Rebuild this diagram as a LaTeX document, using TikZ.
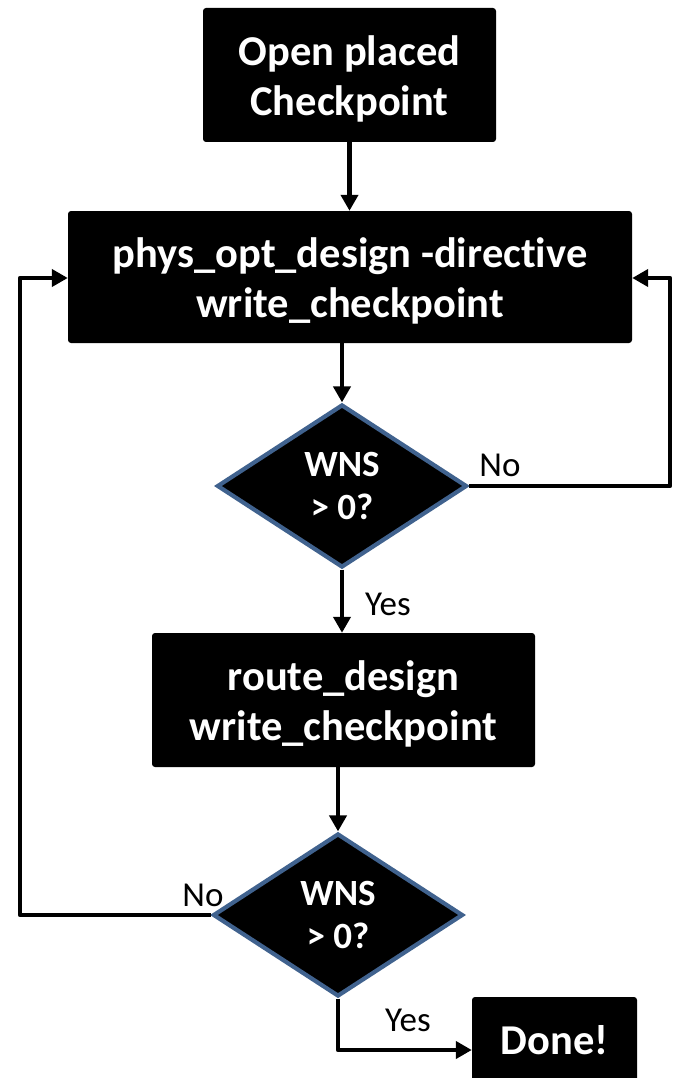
\documentclass[tikz,border=0pt]{standalone}
\usepackage{fontspec}
\setmainfont{Carlito}[Ligatures=NoCommon]
\usetikzlibrary{shapes.geometric,arrows.meta}
\definecolor{decborder}{RGB}{64,98,142}
\tikzset{
  stepbox/.style={rectangle, fill=black, rounded corners=3pt, inner sep=0pt},
  steptext/.style={text=white, font=\fontsize{42.5}{50}\selectfont\bfseries,
    align=center, inner sep=0pt, yshift=-4pt},
  decision/.style={diamond, fill=black, draw=decborder, line width=4.2pt,
    text=white, font=\fontsize{37}{43}\selectfont\bfseries, align=center,
    inner sep=0pt, minimum width=250pt, minimum height=163pt, aspect=1.53},
  flow/.style={line width=4.8pt, line join=round, -{Triangle[length=16pt,width=17pt]}},
  lbl/.style={font=\fontsize{35}{40}\selectfont, text=black, inner sep=0pt},
}
\begin{document}
\begin{tikzpicture}[x=1pt,y=-1pt]
  \useasboundingbox (0,0) rectangle (673,1078);
  \clip (0,0) rectangle (673,1078);

  % process steps
  \node[stepbox, minimum width=293pt, minimum height=134pt,
    label={[steptext]center:Open placed\\Checkpoint}] (open) at (349.5,75) {};
  \node[stepbox, minimum width=564pt, minimum height=132pt,
    label={[steptext]center:phys\_opt\_design -directive\\write\_checkpoint}] (popt) at (350,277) {};
  \node[decision] (wns1) at (342,486) {WNS\\> 0?};
  \node[stepbox, minimum width=383pt, minimum height=134pt,
    label={[steptext]center:route\_design\\write\_checkpoint}] (route) at (343.5,700) {};
  \node[decision] (wns2) at (338,915) {WNS\\> 0?};
  \node[stepbox, minimum width=165pt, minimum height=88pt,
    label={[steptext, yshift=5pt]center:Done!}] (done) at (554.5,1041) {};

  % loop-back corners
  \coordinate (rbot) at (670,486);
  \coordinate (rtop) at (670,278);
  \coordinate (lbot) at (20,915);
  \coordinate (ltop) at (20,278);
  \coordinate (ybend) at (338,1050);

  % main flow
  \draw[flow] (open.south) -- (open.south |- popt.north);
  \draw[flow] (wns1.north |- popt.south) -- (wns1.north);
  \draw[flow] (wns1.south) -- (wns1.south |- route.north);
  \draw[flow] (wns2.north |- route.south) -- (wns2.north);
  \draw[flow] (wns2.south) -- (ybend) -- (ybend -| done.west);

  % retry loops
  \draw[flow] (wns1.east) -- (rbot) -- (rtop) -- (rtop -| popt.east);
  \draw[flow] (wns2.west) -- (lbot) -- (ltop) -- (ltop -| popt.west);

  % branch labels
  \node[lbl] (no1) at (500,465) {No};
  \node[lbl] (yes1) at (388,604) {Yes};
  \node[lbl] (no2) at (203,895) {No};
  \node[lbl] (yes2) at (408,1020) {Yes};
\end{tikzpicture}
\end{document}
